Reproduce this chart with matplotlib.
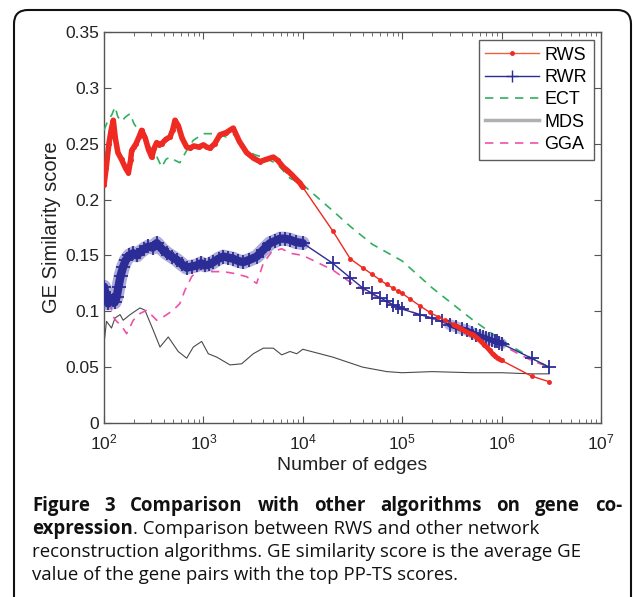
import matplotlib
matplotlib.use("Agg")
import matplotlib.pyplot as plt
from matplotlib.lines import Line2D
from matplotlib.path import Path
from matplotlib.patches import PathPatch
import numpy as np

# ---------------- data ----------------
rws_x = [100, 105, 112, 118, 124, 130, 138, 150, 165, 176, 185, 190, 200, 210, 225, 239,
         260, 280, 302, 320, 339, 360, 380, 420, 461, 490, 518, 560, 610, 679, 740, 800,
         900, 1000, 1080, 1164, 1300, 1468, 1700, 1995, 2300, 2722, 3200, 3707, 4300,
         5047, 5600, 6364, 7000, 7800, 8600, 9330, 10000,
         20000, 30000, 40000, 50000, 60000, 70000, 80000, 90000,
         100000, 120000, 150000, 190000, 230000, 270000, 330000, 380000, 430000, 480000,
         520000, 570000, 620000, 670000, 710000, 760000, 810000, 860000, 910000, 1000000,
         2000000, 3000000]
rws_y = [0.213, 0.228, 0.250, 0.262, 0.271, 0.255, 0.242, 0.236, 0.228, 0.224, 0.235, 0.244,
         0.247, 0.250, 0.256, 0.262, 0.255, 0.245, 0.238, 0.246, 0.251, 0.249, 0.250, 0.254,
         0.256, 0.262, 0.271, 0.266, 0.255, 0.247, 0.246, 0.248, 0.247, 0.249, 0.247, 0.246,
         0.250, 0.258, 0.260, 0.264, 0.252, 0.242, 0.237, 0.234, 0.236, 0.238, 0.235, 0.229,
         0.226, 0.222, 0.218, 0.215, 0.211,
         0.172, 0.147, 0.139, 0.133, 0.128, 0.124, 0.121, 0.118,
         0.116, 0.111, 0.105, 0.099, 0.095, 0.092, 0.088, 0.085, 0.082, 0.080,
         0.079, 0.076, 0.073, 0.070, 0.068, 0.065, 0.062, 0.060, 0.058, 0.056,
         0.042, 0.037]

rwr_x = [100, 104, 110, 116, 122, 128, 134, 140, 147, 156, 166, 180, 197, 214, 230, 255, 279,
         310, 339, 380, 427, 480, 540, 610, 679, 760, 855, 950, 1037, 1150, 1260, 1420, 1585,
         1780, 1995, 2250, 2520, 2900, 3440, 4000, 4680, 5300, 5900, 6600, 7450, 8500, 10000,
         20000, 30000, 40000, 50000, 60000, 70000, 80000, 90000,
         100000, 150000, 200000, 250000, 300000, 350000, 400000, 450000, 500000, 550000,
         600000, 650000, 700000, 750000, 800000, 850000, 900000, 950000, 1000000,
         2000000, 3000000]
rwr_y = [0.122, 0.115, 0.107, 0.112, 0.110, 0.108, 0.113, 0.122, 0.132, 0.140, 0.146, 0.150,
         0.152, 0.150, 0.153, 0.156, 0.158, 0.157, 0.161, 0.156, 0.152, 0.149, 0.146, 0.142,
         0.139, 0.140, 0.141, 0.143, 0.141, 0.142, 0.144, 0.147, 0.149, 0.148, 0.147, 0.145,
         0.144, 0.146, 0.149, 0.155, 0.161, 0.163, 0.165, 0.165, 0.164, 0.162, 0.161,
         0.143, 0.130, 0.121, 0.116, 0.112, 0.109, 0.106, 0.104,
         0.102, 0.097, 0.094, 0.091, 0.088, 0.086, 0.084, 0.083, 0.081, 0.079,
         0.078, 0.077, 0.076, 0.075, 0.074, 0.073, 0.073, 0.072, 0.071,
         0.058, 0.050]

ect_x = [100, 110, 120, 129, 138, 150, 165, 183, 200, 230, 258, 290, 326, 380, 420, 461, 520,
         580, 679, 790, 1000, 1360, 1700, 2170, 2722, 3300, 4000, 5500, 7450, 9800,
         20000, 30000, 50000, 100000, 200000, 500000, 1000000, 2000000, 3000000]
ect_y = [0.262, 0.271, 0.276, 0.283, 0.274, 0.270, 0.274, 0.277, 0.268, 0.260, 0.253, 0.247,
         0.242, 0.229, 0.236, 0.238, 0.235, 0.233, 0.244, 0.253, 0.259, 0.259, 0.256, 0.259,
         0.244, 0.240, 0.238, 0.232, 0.219, 0.214,
         0.190, 0.176, 0.160, 0.145, 0.121, 0.093, 0.074, 0.058, 0.050]

mds_x = [100, 106, 119, 129, 145, 156, 183, 230, 258, 313, 366, 443, 558, 679, 791, 961,
         1120, 1360, 1853, 2427, 3176, 4006, 5047, 6134, 7430, 8690, 10000,
         20000, 40000, 70000, 100000, 200000, 500000, 1000000, 2000000, 3000000]
mds_y = [0.071, 0.091, 0.085, 0.094, 0.097, 0.092, 0.097, 0.103, 0.101, 0.083, 0.068, 0.077,
         0.064, 0.058, 0.068, 0.073, 0.062, 0.059, 0.052, 0.053, 0.062, 0.067, 0.067, 0.061,
         0.064, 0.062, 0.066,
         0.059, 0.050, 0.046, 0.045, 0.046, 0.045, 0.045, 0.044, 0.044]

gga_x = [100, 110, 124, 134, 150, 169, 197, 230, 269, 339, 396, 461, 498, 580, 653, 762, 889,
         1080, 1164, 1584, 1995, 2722, 3432, 4005, 4844, 6130, 7450, 10000,
         20000, 30000, 44000, 64000, 88000, 190000, 480000, 950000, 1400000, 2000000, 3000000]
gga_y = [0.110, 0.115, 0.095, 0.091, 0.087, 0.080, 0.092, 0.098, 0.101, 0.092, 0.095, 0.099,
         0.101, 0.107, 0.119, 0.131, 0.137, 0.139, 0.1355, 0.1355, 0.134, 0.131, 0.125, 0.143,
         0.153, 0.156, 0.152, 0.150,
         0.137, 0.126, 0.1175, 0.110, 0.104, 0.094, 0.082, 0.071, 0.063, 0.056, 0.050]

series_names = ["RWS", "RWR", "ECT", "MDS", "GGA"]
y_ticks = [0, 0.05, 0.1, 0.15, 0.2, 0.25, 0.3, 0.35]
y_tick_labels = ["0", "0.05", "0.1", "0.15", "0.2", "0.25", "0.3", "0.35"]
x_ticks = [1e2, 1e3, 1e4, 1e5, 1e6, 1e7]

caption_line1 = "Figure 3 Comparison with other algorithms on gene co-"
caption_line2_bold = "expression"
caption_line2_rest = ". Comparison between RWS and other network"
caption_line3 = "reconstruction algorithms. GE similarity score is the average GE"
caption_line4 = "value of the gene pairs with the top PP-TS scores."

# ---------------- figure ----------------
plt.rcParams['font.family'] = ['Liberation Sans', 'DejaVu Sans']
W, H = 633, 597
fig = plt.figure(figsize=(W / 100, H / 100), dpi=100)
fig.patch.set_facecolor('white')

ax = fig.add_axes([104 / W, 1 - 423 / H, (601 - 104) / W, (423 - 32) / H])

c_rws = '#ee2a22'
c_rwr = '#2c2c96'
c_ect = '#30b060'
c_mds = '#4a4a4a'
c_gga = '#f050a8'

rws_x_a = np.array(rws_x); rws_y_a = np.array(rws_y)
rwr_x_a = np.array(rwr_x); rwr_y_a = np.array(rwr_y)

ax.plot(mds_x, mds_y, color=c_mds, lw=0.8, zorder=2)
ax.plot(gga_x, gga_y, color=c_gga, lw=1.2, ls=(0, (5, 4)), zorder=3)
ax.plot(ect_x, ect_y, color=c_ect, lw=1.2, ls=(0, (5, 4)), zorder=3)

# RWR: dense parts rendered as thick band of '+' markers
dense_rwr = (rwr_x_a <= 10000)
ax.plot(rwr_x_a[dense_rwr], rwr_y_a[dense_rwr], color='#6a6ab8', lw=10, alpha=0.55,
        solid_capstyle='round', solid_joinstyle='round', zorder=4)
ax.plot(rwr_x_a[dense_rwr], rwr_y_a[dense_rwr], color=c_rwr, lw=6,
        solid_capstyle='round', solid_joinstyle='round', zorder=4)
dense_rwr2 = (rwr_x_a >= 300000) & (rwr_x_a <= 1000000)
ax.plot(rwr_x_a[dense_rwr2], rwr_y_a[dense_rwr2], color='#6a6ab8', lw=8, alpha=0.5,
        solid_capstyle='round', zorder=4)
ax.plot(rwr_x_a[dense_rwr2], rwr_y_a[dense_rwr2], color=c_rwr, lw=4,
        solid_capstyle='round', zorder=4)
ax.plot(rwr_x, rwr_y, color=c_rwr, lw=1.0, marker='+', ms=10, mew=1.3, zorder=4)

# RWS: dense parts rendered as thick band of dots
dense_rws = (rws_x_a <= 10000)
ax.plot(rws_x_a[dense_rws], rws_y_a[dense_rws], color=c_rws, lw=4,
        solid_capstyle='round', solid_joinstyle='round', zorder=5)
dense_rws2 = (rws_x_a >= 330000) & (rws_x_a <= 1000000)
ax.plot(rws_x_a[dense_rws2], rws_y_a[dense_rws2], color=c_rws, lw=3.5,
        solid_capstyle='round', zorder=5)
ax.plot(rws_x, rws_y, color=c_rws, lw=1.0, marker='.', ms=5, zorder=5)

ax.set_xscale('log')
ax.set_xlim(1e2, 1e7)
ax.set_ylim(0, 0.35)
ax.set_yticks(y_ticks)
ax.set_yticklabels(y_tick_labels)
ax.set_xticks(x_ticks)

axcol = '#555555'
for s in ax.spines.values():
    s.set_color(axcol)
    s.set_linewidth(1.0)
ax.tick_params(which='both', direction='in', top=True, right=True, colors=axcol,
               labelcolor='#222222')
ax.tick_params(axis='y', labelsize=12.5)
ax.tick_params(axis='x', labelsize=12.5, pad=7)
ax.tick_params(which='major', length=5)
ax.tick_params(which='minor', length=3)

ax.set_xlabel('Number of edges', fontsize=14, color='#222222', labelpad=3)
ax.set_ylabel('GE Similarity score', fontsize=14.5, color='#222222', labelpad=3)

handles = [
    Line2D([0, 0.5, 1], [0, 0, 0], color='#f06040', lw=1.0, marker='.', ms=5, markevery=[1],
           markerfacecolor=c_rws, markeredgecolor=c_rws),
    Line2D([0, 0.5, 1], [0, 0, 0], color=c_rwr, lw=1.0, marker='+', ms=9, mew=1.0,
           markevery=[1]),
    Line2D([], [], color=c_ect, lw=1.2, ls=(0, (5, 4))),
    Line2D([], [], color='#b0b0b0', lw=2.5),
    Line2D([], [], color=c_gga, lw=1.2, ls=(0, (5, 4))),
]
leg = ax.legend(handles, series_names, loc='upper right', fontsize=13,
                bbox_to_anchor=(0.985, 0.979), borderaxespad=0, frameon=True,
                fancybox=False, handlelength=3.0, handletextpad=0.3,
                labelspacing=0.3, borderpad=0.35)
leg.get_frame().set_edgecolor('#333333')
leg.get_frame().set_linewidth(1.0)

# ---------------- frame around the figure ----------------
r = 14
x0, x1, y0, yb = 14, 631, 10, 620
verts = [(x0, yb), (x0, y0 + r), (x0, y0), (x0 + r, y0), (x1 - r, y0), (x1, y0),
         (x1, y0 + r), (x1, yb)]
codes = [Path.MOVETO, Path.LINETO, Path.CURVE3, Path.CURVE3, Path.LINETO, Path.CURVE3,
         Path.CURVE3, Path.LINETO]
verts_fig = [(vx / W, 1 - vy / H) for vx, vy in verts]
frame = PathPatch(Path(verts_fig, codes), transform=fig.transFigure, fill=False,
                  edgecolor='#111111', lw=1.5, clip_on=False)
fig.patches.append(frame)

# ---------------- caption ----------------
cap_font = ['Open Sans', 'DejaVu Sans']
fs = 13.4
left_px, right_px = 32, 622
renderer = fig.canvas.get_renderer()

# line 1: bold, justified
words = caption_line1.split(' ')
txts = [fig.text(0, 0, w, fontsize=fs, fontweight='bold', family=cap_font,
                 va='baseline', color='#111111') for w in words]
widths = [t.get_window_extent(renderer).width for t in txts]
gap = (right_px - left_px - sum(widths)) / (len(words) - 1)
xpos = left_px
for t, wd in zip(txts, widths):
    t.set_position((xpos / W, 1 - 511 / H))
    xpos += wd + gap

t2 = fig.text(left_px / W, 1 - 534 / H, caption_line2_bold, fontsize=fs, fontweight='bold',
              family=cap_font, va='baseline', color='#111111')
bb = t2.get_window_extent(renderer)
fig.text(bb.x1 / W, 1 - 534 / H, caption_line2_rest,
         fontsize=fs, family=cap_font, va='baseline', color='#111111')
fig.text(left_px / W, 1 - 557 / H, caption_line3,
         fontsize=fs, family=cap_font, va='baseline', color='#111111')
fig.text(left_px / W, 1 - 580 / H, caption_line4,
         fontsize=fs, family=cap_font, va='baseline', color='#111111')

fig.savefig('out.png', dpi=100)
